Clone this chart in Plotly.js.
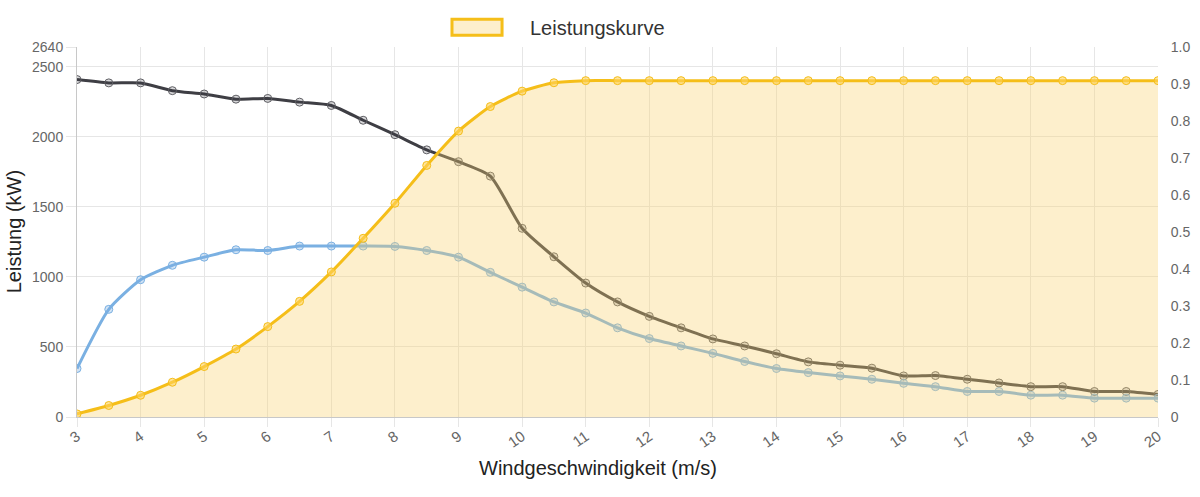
<!DOCTYPE html>
<html>
<head>
<meta charset="utf-8">
<script src="https://cdn.plot.ly/plotly-3.0.1.min.js"></script>
<style>
	html, body { margin: 0; padding: 0; background: #fff; }
	#grafico { width: 1200px; height: 497px; }
</style>
</head>
<body>
<div id="grafico"></div>
<script>
// Windgeschwindigkeit (m/s)
const wind = [3, 3.5, 4, 4.5, 5, 5.5, 6, 6.5, 7, 7.5, 8, 8.5, 9, 9.5, 10, 10.5, 11, 11.5,
	12, 12.5, 13, 13.5, 14, 14.5, 15, 15.5, 16, 16.5, 17, 17.5, 18, 18.5, 19, 19.5, 20];

// Leistung (kW)
const leistung = [22, 82, 155, 248, 360, 485, 645, 825, 1035, 1275, 1525, 1795, 2040, 2215, 2325, 2385, 2400, 2400,
	2400, 2400, 2400, 2400, 2400, 2400, 2400, 2400, 2400, 2400, 2400, 2400, 2400, 2400, 2400, 2400, 2400];

// Schubbeiwert (dunkel) und Leistungsbeiwert (blau), rechte Achse
const ct = [0.912, 0.903, 0.903, 0.882, 0.873, 0.859, 0.861, 0.851, 0.842, 0.802, 0.763, 0.722, 0.690, 0.651, 0.510, 0.433, 0.362, 0.311,
	0.272, 0.241, 0.211, 0.192, 0.171, 0.149, 0.140, 0.132, 0.111, 0.112, 0.102, 0.092, 0.082, 0.082, 0.069, 0.069, 0.061];
const cp = [0.131, 0.291, 0.371, 0.410, 0.432, 0.452, 0.450, 0.462, 0.462, 0.462, 0.461, 0.450, 0.432, 0.391, 0.351, 0.311, 0.281, 0.241,
	0.212, 0.192, 0.172, 0.150, 0.131, 0.120, 0.111, 0.102, 0.091, 0.082, 0.069, 0.069, 0.059, 0.059, 0.051, 0.051, 0.051];

// Achsenbeschriftungen
const leistungTicks = [0, 500, 1000, 1500, 2000, 2500, 2640];
const beiwertTicks = [0, 0.1, 0.2, 0.3, 0.4, 0.5, 0.6, 0.7, 0.8, 0.9, 1.0];
const beiwertLabels = ['0', '0.1', '0.2', '0.3', '0.4', '0.5', '0.6', '0.7', '0.8', '0.9', '1.0'];

const gelb = 'rgb(245, 190, 25)';
const gelbFill = 'rgba(250, 210, 110, 0.35)';
const grid = '#e6e6e6';
const font = 'Liberation Sans, Arial, sans-serif';

// ct/cp auf der Basisachse, damit die Fuellflaeche der Leistungskurve darueber liegt
const traceCt = {
	x: wind, y: ct, yaxis: 'y', mode: 'lines+markers', showlegend: false,
	line: { color: 'rgb(62, 62, 68)', width: 3, shape: 'spline', smoothing: 0.6 },
	marker: { size: 8, color: 'rgba(62, 62, 68, 0.2)', line: { color: 'rgb(95, 95, 100)', width: 1 } }
};
const traceCp = {
	x: wind, y: cp, yaxis: 'y', mode: 'lines+markers', showlegend: false,
	line: { color: 'rgb(122, 176, 226)', width: 3, shape: 'spline', smoothing: 0.6 },
	marker: { size: 8, color: 'rgba(122, 176, 226, 0.35)', line: { color: 'rgb(122, 176, 226)', width: 1 } }
};
const traceLeistung = {
	x: wind, y: leistung, yaxis: 'y2', name: 'Leistungskurve', mode: 'lines+markers', showlegend: false,
	fill: 'tozeroy', fillcolor: gelbFill,
	line: { color: gelb, width: 3, shape: 'spline', smoothing: 0.6 },
	marker: { size: 8, color: 'rgba(255, 210, 90, 0.6)', line: { color: gelb, width: 1 } }
};

const layout = {
	width: 1200, height: 497,
	margin: { l: 77, r: 42, t: 47, b: 80 },
	paper_bgcolor: '#fff', plot_bgcolor: '#fff',
	font: { family: font, color: '#666', size: 14 },
	xaxis: {
		range: [3, 20], tick0: 3, dtick: 1, tickangle: -35,
		showgrid: true, gridcolor: grid, zeroline: false,
		ticks: 'outside', ticklen: 9, tickcolor: grid, ticklabelstandoff: -5,
		showline: true, linecolor: '#c8c8c8', linewidth: 1,
		tickfont: { size: 15, color: '#666' }
	},
	yaxis: {
		range: [0, 1], side: 'right', tickvals: beiwertTicks, ticktext: beiwertLabels,
		showgrid: false, zeroline: false,
		ticks: 'outside', ticklen: 9, tickcolor: 'rgba(0,0,0,0)',
		tickfont: { size: 14, color: '#666' }
	},
	yaxis2: {
		range: [0, 2640], overlaying: 'y', side: 'left', tickvals: leistungTicks,
		showgrid: true, gridcolor: grid, zeroline: false,
		ticks: 'outside', ticklen: 10, tickcolor: grid,
		showline: true, linecolor: '#c8c8c8', linewidth: 1,
		tickfont: { size: 14, color: '#666' }
	},
	shapes: [{
		type: 'rect', xref: 'paper', yref: 'paper',
		x0: 0.3469, x1: 0.3932, y0: 1.0316, y1: 1.0749,
		fillcolor: gelbFill, line: { color: gelb, width: 3 }
	}],
	annotations: [
		{ text: 'Leistungskurve', xref: 'paper', yref: 'paper', x: 0.4172, y: 1.0505,
			xanchor: 'left', yanchor: 'middle', showarrow: false, font: { size: 20, color: '#333' } },
		{ text: 'Windgeschwindigkeit (m/s)', xref: 'paper', yref: 'paper', x: 0.482, y: -0.1386,
			xanchor: 'center', yanchor: 'middle', showarrow: false, font: { size: 20, color: '#222' } },
		{ text: 'Leistung (kW)', xref: 'paper', yref: 'paper', x: -0.046, y: 0.5, textangle: -90,
			xanchor: 'right', yanchor: 'middle', showarrow: false, font: { size: 20, color: '#222' } }
	]
};

Plotly.newPlot('grafico', [traceCt, traceCp, traceLeistung], layout, { displayModeBar: false, staticPlot: true });
</script>
</body>
</html>
